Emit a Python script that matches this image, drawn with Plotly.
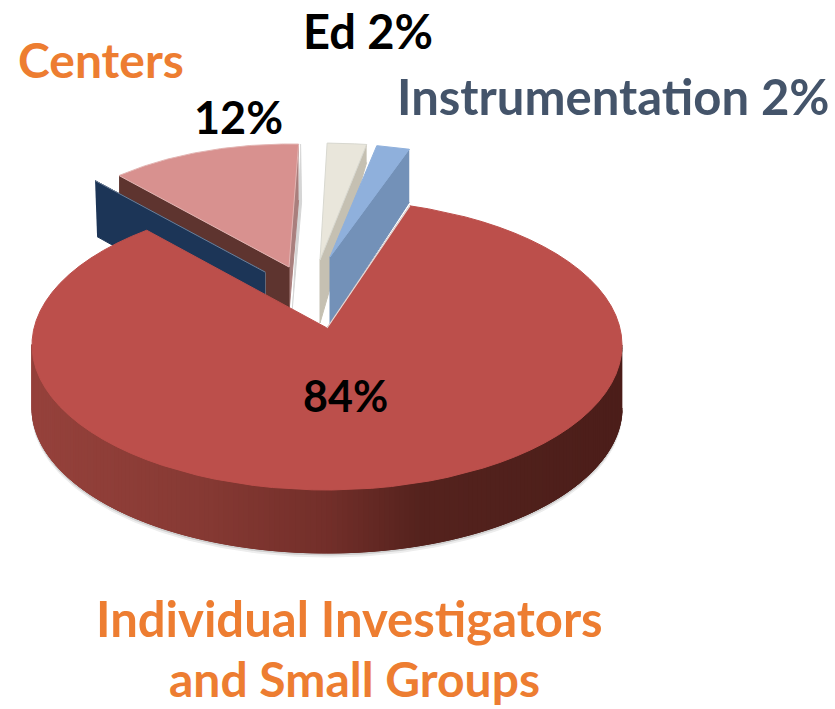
import numpy as np
import plotly.graph_objects as go

# ---- chart values
LABELS = ["Individual Investigators and Small Groups", "Centers", "Ed", "Instrumentation"]
SHARES = [84, 12, 2, 2]
PCT_TEXT = ["84%", "12%", "Ed 2%", "Instrumentation 2%"]

# ---- how each wedge is drawn (3D look is faked with flat filled polygons)
# cx,cy,a,b : projected ellipse of the wedge, apex : its tip, start : angle (deg, clockwise from top)
VIEW = {
    "Individual Investigators and Small Groups": dict(cx=327, cy=345, a=295, b=145, apex=(327, 328), start=16.3, squeeze=1.012),
    "Centers": dict(cx=290, cy=271, a=259, b=127, apex=(289, 267), start=-41.3, squeeze=1.0),
    "Ed": dict(cx=316, cy=260, a=320, b=117, apex=(320, 260), start=1.9, squeeze=1.0),
    "Instrumentation": dict(cx=334, cy=274, a=268, b=130, apex=(330, 257), start=9.1, squeeze=1.0),
}
RED_TOP = "#BC4F4B"
PINK_TOP = "#D8918F"
PINK_CUT = "#A97F7D"
BROWN_CUT = "#5E342F"
NAVY_CUT = "#1C3557"
BEIGE_TOP = "#E9E6DB"
BEIGE_CUT = "#C5C0B2"
BLUE_TOP = "#8FB0DC"
BLUE_CUT = "#7391B8"
WALL_DEPTH = 63
WALL_X = [32, 200, 327, 420, 622]
WALL_R = [150, 135, 115, 85, 76]
WALL_G = [66, 58, 47, 35, 30]
WALL_B = [60, 52, 42, 30, 26]


def wedge_arc(name, n=80):
    v = VIEW[name]
    sweep = SHARES[LABELS.index(name)] / 100 * 360 * v["squeeze"]
    th = np.radians(np.linspace(v["start"], v["start"] + sweep, n))
    return v["cx"] + v["a"] * np.sin(th), v["cy"] - v["b"] * np.cos(th)


def poly(fig, xs, ys, color, line=None, width=1, opacity=1):
    fig.add_trace(go.Scatter(
        x=list(xs), y=list(ys), mode="lines", fill="toself", fillcolor=color,
        line=dict(color=line or color, width=width), opacity=opacity,
        hoverinfo="skip", showlegend=False,
    ))


def cut_face(fig, name, end, depth_arc, depth_apex, color):
    # flat radial face hanging under one straight edge of a wedge
    ax, ay = VIEW[name]["apex"]
    xs, ys = wedge_arc(name)
    px, py = xs[end], ys[end]
    poly(fig, [px, ax, ax, px], [py, ay, ay + depth_apex, py + depth_arc], color)
    return px, py


def top_face(fig, name, color, line=None, width=1):
    ax, ay = VIEW[name]["apex"]
    xs, ys = wedge_arc(name)
    poly(fig, np.r_[ax, xs, ax], np.r_[ay, ys, ay], color, line=line, width=width)


fig = go.Figure()

# --- Centers: navy inner face, brown cut face, rose side, pink top
BIG, CENTERS, ED, INSTR = LABELS
cx_arc, cy_arc = wedge_arc(CENTERS)
ax, ay = VIEW[CENTERS]["apex"]
poly(fig, [cx_arc[-1] + 2, cx_arc[-1] + 3, ax + 3], [cy_arc[-1], cy_arc[-1] + 58, ay + 45], "#D5D5D5")
cut_face(fig, CENTERS, -1, 56, 45, PINK_CUT)
# brown face: its lower edge steps down where the navy panel ends
px, py = cx_arc[0], cy_arc[0]
poly(fig, [px, ax, ax, ax - 23, ax - 23, px],
     [py, ay, ay + 53, ay + 53, ay + 5, py + 18], BROWN_CUT)
poly(fig, [px - 24, ax - 24, ax - 24, px - 22],
     [py + 5, ay + 5, ay + 63, py + 61], NAVY_CUT)
fig.add_trace(go.Scatter(x=[px - 24, ax - 24], y=[py + 5, ay + 5], mode="lines",
                         line=dict(color="#6F7F96", width=1), hoverinfo="skip", showlegend=False))
top_face(fig, CENTERS, PINK_TOP, line="#E3B5B3")

# --- Ed and Instrumentation wedges
for name, top, cut, d_arc, d_apex in [(ED, BEIGE_TOP, BEIGE_CUT, 18, 63), (INSTR, BLUE_TOP, BLUE_CUT, 53, 67)]:
    cut_face(fig, name, -1, d_arc, d_apex, cut)
    top_face(fig, name, top, line="#D8D8D0" if name == ED else top)

# --- big wedge: soft shadow, wall strips with a left-to-right shade, top face
bx, by = wedge_arc(BIG, 300)
front = by > VIEW[BIG]["cy"] - 1
fx, fy = bx[front], by[front]
for off, col in [(4, "#EDEDED"), (2, "#CFCFCF")]:
    poly(fig, np.r_[fx, fx[::-1]], np.r_[fy, fy[::-1] + WALL_DEPTH + off], col)
for i in range(0, len(fx) - 1):
    mid = (fx[i] + fx[i + 1]) / 2
    col = "rgb(%d,%d,%d)" % (np.interp(mid, WALL_X, WALL_R), np.interp(mid, WALL_X, WALL_G), np.interp(mid, WALL_X, WALL_B))
    j = i + 2 if i + 2 < len(fx) else i + 1
    poly(fig, [fx[i], fx[j], fx[j], fx[i]],
         [fy[i], fy[j], fy[j] + WALL_DEPTH, fy[i] + WALL_DEPTH], col)
top_face(fig, BIG, RED_TOP)
# pale rim along the right-hand cut of the big wedge
apx, apy = VIEW[BIG]["apex"]
fig.add_trace(go.Scatter(x=[apx, bx[0]], y=[apy, by[0]], mode="lines",
                         line=dict(color="#E4DEDC", width=1.2), hoverinfo="skip", showlegend=False))

# --- labels
ORANGE = "#ED7D31"
SLATE = "#44546A"
notes = [
    ("Centers", 101, 59, ORANGE, 48),
    (PCT_TEXT[2], 368, 31, "#000000", 47),
    (PCT_TEXT[3], 613, 96, SLATE, 49),
    (PCT_TEXT[1], 238, 117, "#000000", 45),
    (PCT_TEXT[0], 345, 395, "#000000", 43),
    ("Individual Investigators", 349, 618, ORANGE, 49),
    ("and Small Groups", 354, 678, ORANGE, 48),
]
for txt, x, y, col, size in notes:
    fig.add_annotation(x=x, y=y, text="<b>%s</b>" % txt, showarrow=False,
                       xanchor="center", yanchor="middle",
                       font=dict(family="Lato, Open Sans, sans-serif", size=size, color=col))

fig.update_layout(
    width=835, height=709, margin=dict(l=0, r=0, t=0, b=0),
    paper_bgcolor="white", plot_bgcolor="white", showlegend=False,
    xaxis=dict(range=[0, 835], visible=False, fixedrange=True),
    yaxis=dict(range=[709, 0], visible=False, fixedrange=True),
)
fig.write_html("out.html", config=dict(displayModeBar=False),
               post_script="document.body.style.margin='0';document.body.style.overflow='hidden';")
